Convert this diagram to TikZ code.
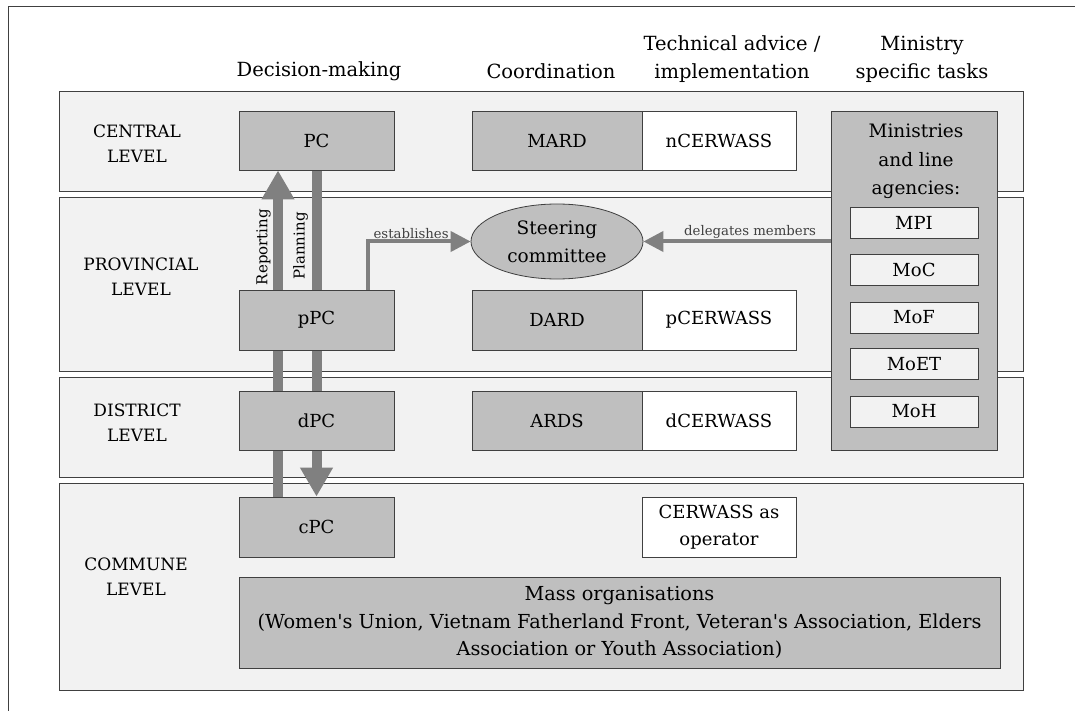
\documentclass[tikz,border=0pt]{standalone}
\usepackage{fontspec}
\setmainfont{DejaVu Serif}
\usetikzlibrary{arrows.meta,shapes.geometric}
\pgfdeclarelayer{back}
\pgfdeclarelayer{mid}
\pgfsetlayers{back,mid,main}
\definecolor{bandfill}{HTML}{F2F2F2}
\definecolor{boxfill}{HTML}{BFBFBF}
\definecolor{arrowgray}{HTML}{808080}
\definecolor{edgegray}{HTML}{404040}
\newcommand{\sq}{\XeTeXglyph\the\XeTeXcharglyph"27\relax}
\begin{document}
\begin{tikzpicture}[x=1pt,y=-1pt,
  band/.style={draw=edgegray, fill=bandfill, line width=0.8pt, inner sep=0pt},
  gbox/.style={draw=edgegray, fill=boxfill, line width=0.8pt, inner sep=0pt, font=\fontsize{18}{27}\selectfont, align=center},
  wbox/.style={gbox, fill=white},
  lbox/.style={gbox, fill=bandfill},
  lvl/.style={font=\fontsize{17}{25}\selectfont, align=center, inner sep=0pt},
  hdr/.style={font=\fontsize{19.5}{28}\selectfont, align=center, inner sep=0pt},
  bigarrow/.style={draw=arrowgray, line width=10pt, -{Triangle[width=31pt,length=29pt]}},
  smallarrow/.style={draw=arrowgray, line width=4pt, -{Triangle[width=20pt,length=20pt]}},
  albl/.style={font=\fontsize{13.3}{16}\selectfont, text=edgegray, inner sep=1pt},
  vlbl/.style={font=\fontsize{15}{18}\selectfont, rotate=90, inner sep=0pt}
]
\useasboundingbox (0,0) rectangle (1075,711);

\begin{pgfonlayer}{back}
  \draw[edgegray, line width=1pt] (8,711) -- (8,7) -- (1075,7);
  \node[band, minimum width=964pt, minimum height=100pt] (bcen) at (541,141) {};
  \node[band, minimum width=964pt, minimum height=174pt] (bprov) at (541,284) {};
  \node[band, minimum width=964pt, minimum height=100pt] (bdist) at (541,427) {};
  \node[band, minimum width=964pt, minimum height=207pt] (bcomm) at (541,586.5) {};
\end{pgfonlayer}

% headers
\node[hdr] (hdec) at (319,71) {Decision-making};
\node[hdr] (hcoo) at (551,71) {Coordination};
\node[hdr] (htec) at (732,59) {Technical advice /\\implementation};
\node[hdr] (hmin) at (922,59) {Ministry\\specific tasks};

% level labels
\node[lvl] (lcen) at (137,143.5) {CENTRAL\\LEVEL};
\node[lvl] (lprov) at (141,277) {PROVINCIAL\\LEVEL};
\node[lvl] (ldist) at (137,423) {DISTRICT\\LEVEL};
\node[lvl] (lcomm) at (136,577) {COMMUNE\\LEVEL};

% decision-making column
\node[gbox, minimum width=155pt, minimum height=59pt] (pc) at (316.5,140.5) {PC};
\node[gbox, minimum width=155pt, minimum height=60pt] (ppc) at (316.5,320) {pPC};
\node[gbox, minimum width=155pt, minimum height=59pt] (dpc) at (316.5,420.5) {dPC};
\node[gbox, minimum width=155pt, minimum height=60pt] (cpc) at (316.5,527) {cPC};

% coordination / technical
\node[gbox, minimum width=170pt, minimum height=59pt] (mard) at (557,140.5) {MARD};
\node[wbox, minimum width=154pt, minimum height=59pt] (ncer) at (719,140.5) {nCERWASS};
\node[gbox, minimum width=170pt, minimum height=60pt] (dard) at (557,320) {DARD};
\node[wbox, minimum width=154pt, minimum height=60pt] (pcer) at (719,320) {pCERWASS};
\node[gbox, minimum width=170pt, minimum height=59pt] (ards) at (557,420.5) {ARDS};
\node[wbox, minimum width=154pt, minimum height=59pt] (dcer) at (719,420.5) {dCERWASS};
\node[wbox, minimum width=154pt, minimum height=60pt] (cero) at (719,527) {CERWASS as\\operator};

% steering committee
\node[ellipse, draw=edgegray, fill=boxfill, line width=0.8pt, minimum width=172pt, minimum height=75pt, inner sep=0pt, align=center, font=\fontsize{18.5}{28}\selectfont] (sc) at (557,241.5) {Steering\\committee};

% ministries
\node[gbox, minimum width=166pt, minimum height=339pt] (mins) at (914,280.5) {};
\node[font=\fontsize{18.5}{28.5}\selectfont, align=center, inner sep=0pt] (mtxt) at (916,161.5) {Ministries\\and line\\agencies:};
\node[lbox, minimum width=128pt, minimum height=31pt] (mpi) at (914,222.5) {MPI};
\node[lbox, minimum width=128pt, minimum height=31pt] (moc) at (914,270) {MoC};
\node[lbox, minimum width=128pt, minimum height=31pt] (mof) at (914,317.5) {MoF};
\node[lbox, minimum width=128pt, minimum height=31pt] (moet) at (914,364) {MoET};
\node[lbox, minimum width=128pt, minimum height=31pt] (moh) at (914,411.5) {MoH};

% mass organisations
\node[gbox, minimum width=761pt, minimum height=91pt, font=\fontsize{19.3}{27.5}\selectfont] (mass) at (619.5,622.5) {Mass organisations\\(Women\sq s Union, Vietnam Fatherland Front, Veteran\sq s Association, Elders\\Association or Youth Association)};

% arrows
\begin{pgfonlayer}{mid}
  \draw[bigarrow] ([xshift=-38.5pt]cpc.north) -- ([xshift=-38.5pt]pc.south);
  \draw[bigarrow] (pc.south) -- (cpc.north);
  \draw[smallarrow] ([xshift=51.5pt]ppc.north) |- node[albl, above, pos=0.71] (lest) {establishes} (sc.west);
  \draw[smallarrow] (sc.east -| mins.west) -- node[albl, above, pos=0.43] (ldel) {delegates members} (sc.east);
\end{pgfonlayer}
\node[vlbl] (lrep) at (263.5,247) {Reporting};
\node[vlbl] (lplan) at (300.5,246) {Planning};
\end{tikzpicture}
\end{document}
